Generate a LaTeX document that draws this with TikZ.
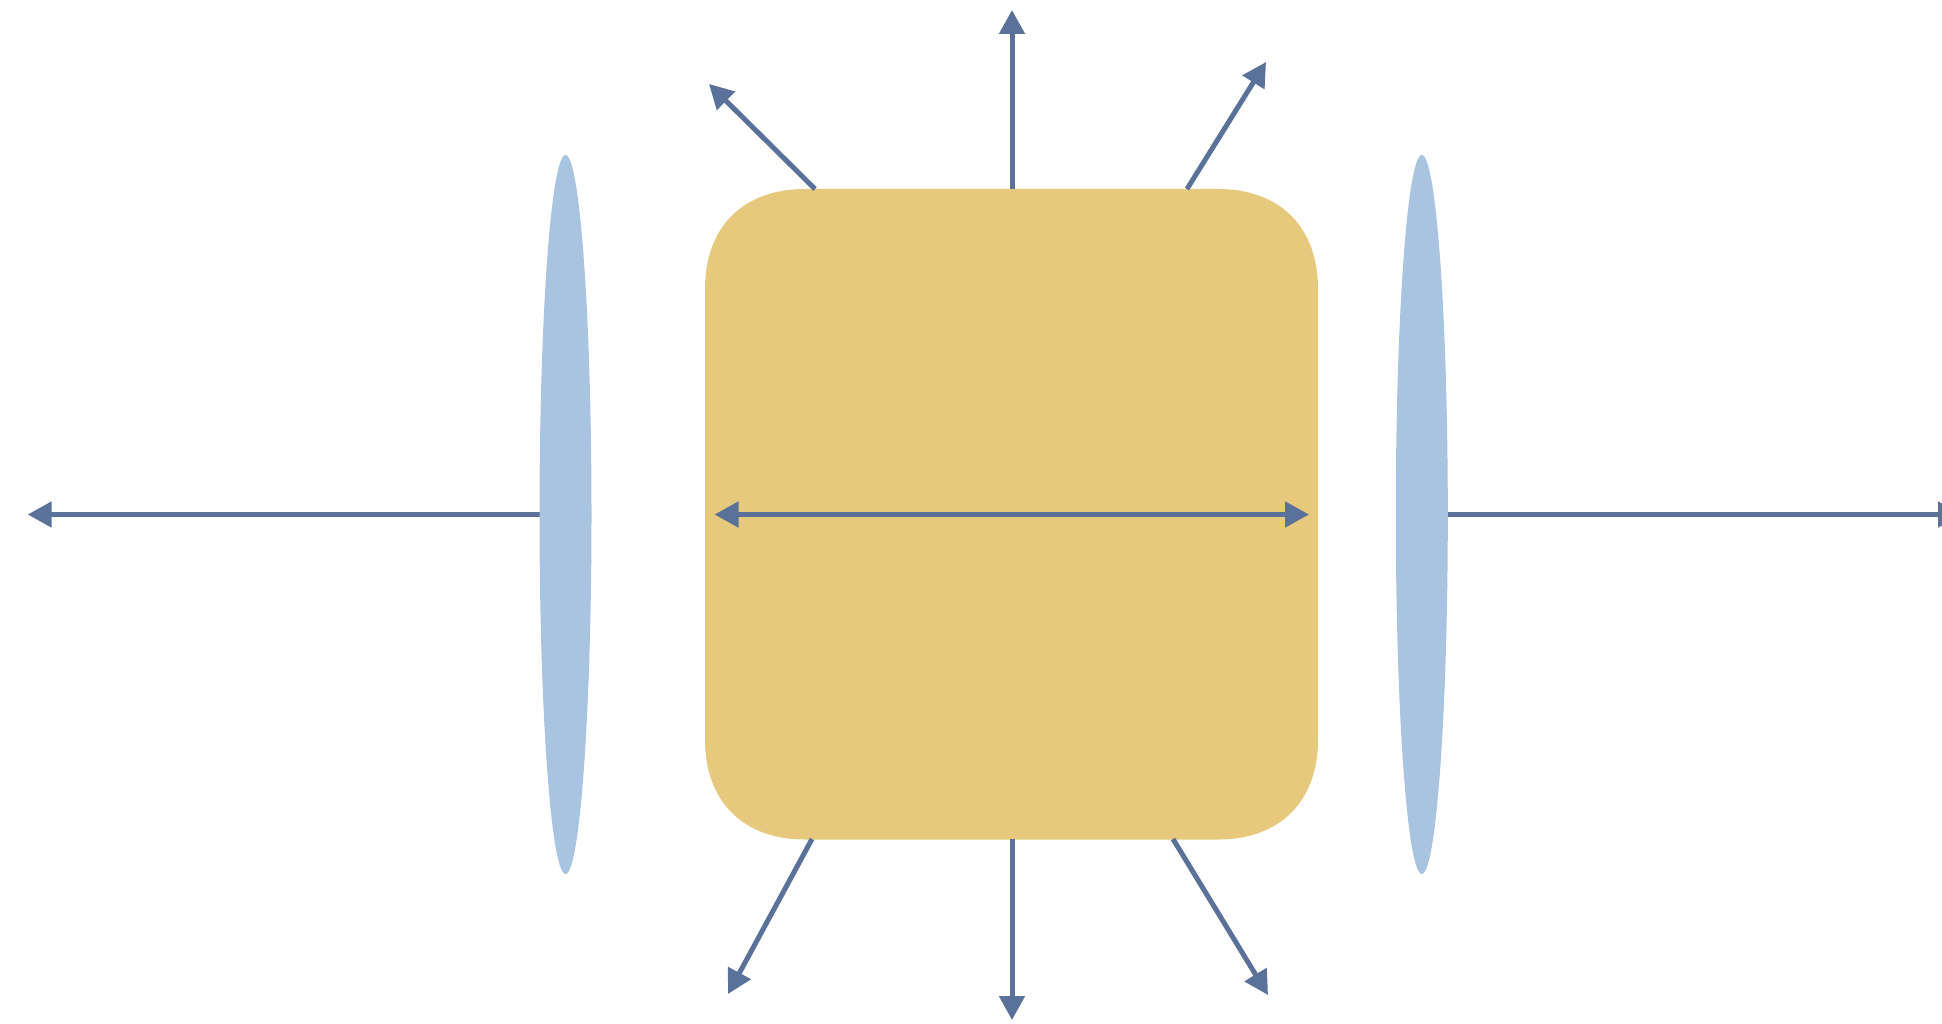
\documentclass[tikz,border=0pt]{standalone}
\usetikzlibrary{arrows.meta,shapes.geometric}
\definecolor{lineblue}{HTML}{5A7299}
\definecolor{lensblue}{HTML}{A9C4E0}
\definecolor{boxgold}{HTML}{E6C97D}
\tikzset{
  ray/.style={draw=lineblue,line width=5pt,-{Triangle[length=24pt,width=25pt]}},
  dray/.style={draw=lineblue,line width=5pt,{Triangle[length=24pt,width=25pt]}-{Triangle[length=24pt,width=25pt]}},
  lens/.style={ellipse,fill=lensblue,draw=none,minimum width=52pt,minimum height=719pt,inner sep=0pt},
  cavity/.style={fill=boxgold,draw=none}
}
\begin{document}
\begin{tikzpicture}[x=1pt,y=-1pt]
\clip (0,0) rectangle (1942,1024);
\fill[white] (0,0) rectangle (1942,1024);
% free ends and start points
\coordinate (ltip) at (27.7,514.5);
\coordinate (rtip) at (1962,514.5);
\coordinate (ulstart) at (815,189);
\coordinate (ultip) at (709,84);
\coordinate (urstart) at (1187,189);
\coordinate (urtip) at (1266,62);
\coordinate (llstart) at (812,839);
\coordinate (lltip) at (728,994);
\coordinate (lrstart) at (1173,839);
\coordinate (lrtip) at (1268,995);
\coordinate (topstart) at (1012,189);
\coordinate (botstart) at (1012,839);
\coordinate (toptip) at (1012,10);
\coordinate (bottip) at (1012,1020);
\coordinate (inl) at (714.5,514.5);
\coordinate (inr) at (1309,514.5);
\coordinate (lensLc) at (565.5,514.5);
\coordinate (lensRc) at (1421.8,514.5);
% axis rays
\draw[ray] (lensLc) -- (ltip);
\draw[ray] (lensRc) -- (rtip);
% cavity (continuous rounded corners)
\def\E{100}\def\K{38}
\path[cavity] (705,289)
  .. controls (705,227) and (743,189) .. (805,189)
  -- (1218,189)
  .. controls (1280,189) and (1318,227) .. (1318,289)
  -- (1318,739.5)
  .. controls (1318,801.5) and (1280,839.5) .. (1218,839.5)
  -- (805,839.5)
  .. controls (743,839.5) and (705,801.5) .. (705,739.5)
  -- cycle;
\draw[ray] (topstart) -- (toptip);
\draw[ray] (botstart) -- (bottip);
\draw[ray] (ulstart) -- (ultip);
\draw[ray] (urstart) -- (urtip);
\draw[ray] (llstart) -- (lltip);
\draw[ray] (lrstart) -- (lrtip);
\draw[dray] (inl) -- (inr);
% lenses
\node[lens] (lensL) at (lensLc) {};
\node[lens] (lensR) at (lensRc) {};
\end{tikzpicture}
\end{document}
